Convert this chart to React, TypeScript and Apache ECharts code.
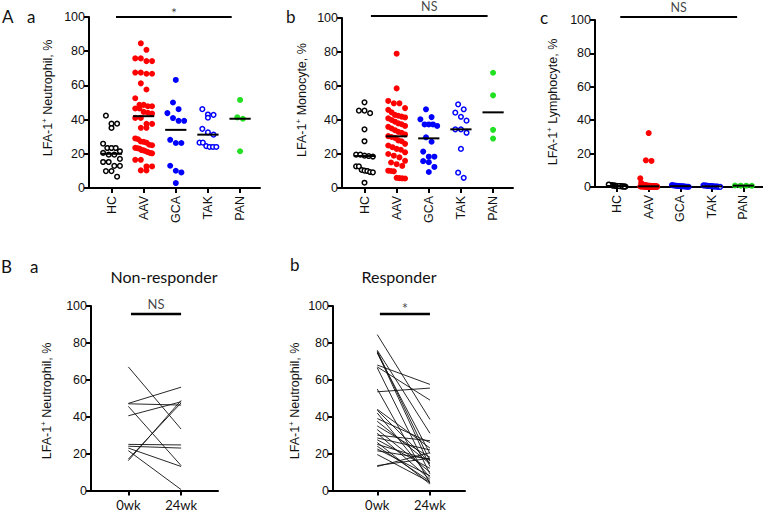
import React, { useEffect, useRef } from "react";
import * as echarts from "echarts";

// ---------- data ----------
const groups = ["HC", "AAV", "GCA", "TAK", "PAN"];
const timepoints = ["0wk", "24wk"];
const yTicks = [0, 20, 40, 60, 80, 100];

const neutrophilHC = [42.3, 37.6, 37.6, 35.1, 25.9, 23.4, 23.4, 23.4, 21.5, 20.5, 19.5, 19.5, 17, 15.2, 15.2, 12.9, 12.9, 9.9, 9.9, 6.6];
const neutrophilAAV = [84.6, 80.8, 75.8, 75.8, 74.2, 74.2, 67.5, 67.5, 66.8, 66.8, 61.2, 57.6, 52.5, 48.6, 48.6, 47.8, 47.8, 46.5, 46.5, 44.5, 44, 43.5, 41, 41, 37.5, 37.5, 35.2, 35.2, 29, 28.5, 27.2, 27, 26.5, 25.3, 25, 23.5, 23.3, 23, 22.2, 22, 21.5, 21, 20.5, 20.3, 16.5, 16.5, 12.6, 12.6, 10.3, 10.3];
const neutrophilGCA = [63.2, 50, 46.1, 43.8, 40.9, 39.3, 39.3, 28.2, 26.3, 26.3, 13, 10.1, 9.1, 2.9];
const neutrophilTAK = [46.1, 43, 42.8, 41.1, 34.6, 32.5, 31.2, 26.5, 26.5, 24.5, 24, 24, 24];
const neutrophilPAN = [51.5, 41.3, 40.5, 21.5];
const neutrophilMedians = [20, 42, 34, 31.2, 40.5];

const monocyteHC = [50.4, 45.5, 45.5, 44, 34.5, 27.5, 19.6, 19.6, 19, 18.8, 18.5, 12.7, 12.7, 10.6, 10.2, 10, 9.4, 9.2, 3.1];
const monocyteAAV = [79, 58.6, 51.2, 49.8, 49.8, 47, 46, 44.5, 43, 42.5, 42, 41.5, 41, 40, 39, 38, 37.5, 36.5, 36, 35, 34, 33, 32.5, 31.5, 30.5, 30, 29.5, 28, 27.5, 26, 25, 24, 23, 22.5, 21, 20, 19, 18, 16, 15, 14, 13, 10.2, 10, 9.8, 6, 5.8, 5.7, 5.6];
const monocyteGCA = [46.3, 41.7, 40.4, 37.4, 37.4, 37.4, 36.5, 29.8, 27.2, 21.4, 18.4, 18.4, 15.8, 15.2, 12.4, 9.4];
const monocyteTAK = [49.2, 46.3, 44.3, 41.9, 39.6, 34.5, 34.5, 32.5, 23, 9, 6];
const monocytePAN = [67.8, 54.5, 34.2, 29.1];
const monocyteMedians = [18.8, 30.4, 29.2, 34.5, 44.5];

const lymphocyteHC = [0.2, 0.3, 0.4, 0.4, 0.5, 0.5, 0.6, 0.6, 0.7, 0.8, 0.8, 0.9, 1.0, 1.1, 1.2, 1.3, 1.5, 0.3, 0.6];
const lymphocyteAAV = [32.3, 16.0, 15.6, 5.2, 2.5, 1.8, 1.5, 1.3, 1.2, 1.0, 1.0, 0.9, 0.8, 0.8, 0.7, 0.7, 0.6, 0.6, 0.5, 0.5, 0.5, 0.4, 0.4, 0.4, 0.3, 0.3, 0.3, 0.3, 0.2, 0.2, 0.2, 0.2, 0.1, 0.1, 0.1, 0.1, 0.1, 0, 0, 0, 0, 0, 0, 0, 0];
const lymphocyteGCA = [1.2, 1.0, 0.9, 0.8, 0.7, 0.6, 0.6, 0.5, 0.4, 0.4, 0.3, 0.2, 0.2, 0.1];
const lymphocyteTAK = [1.0, 0.9, 0.8, 0.7, 0.6, 0.5, 0.5, 0.4, 0.3, 0.3, 0.2, 0.1, 0.1];
const lymphocytePAN = [0.9, 0.8, 0.8, 0.7];
const lymphocyteMedians = [0.6, 0.4, 0.5, 0.4, 0.8];

const nonResponder0wk = [67, 47.2, 47, 45.6, 40.5, 25, 24, 23, 21.6, 17, 16.2];
const nonResponder24wk = [33.3, 56, 46.3, 13.5, 48.1, 24.7, 23, 13, 0.5, 47.5, 48.8];
const responder0wk = [84.5, 76, 75.5, 75, 74.5, 68, 67, 66.5, 55, 53.5, 44, 43.5, 42, 39, 37.5, 35, 33, 31, 30, 28.5, 27.5, 26, 25, 24, 22.5, 21.5, 19.5, 13.5, 13];
const responder24wk = [38.5, 31, 16, 13, 20, 57.5, 49, 9, 4, 55.5, 23, 15, 7, 26, 14.5, 18, 10, 6, 27, 22, 12, 3.5, 16.5, 5, 8, 17, 4.5, 17.5, 20.5];

// ---------- styling ----------
const groupColors = ["#000000", "#ff0000", "#0000ff", "#0000ff", "#22e022"];
const groupHollow = [true, false, false, true, false];
const TICK_FONT = "'Liberation Sans', Arial, sans-serif";
const CAL_FONT = "Lato, 'Open Sans', sans-serif";

// GraphPad-like row layout: neighbouring values share a row, centred on the category
function rowLayout(values: number[], pxX: number, pxY: number, d: number, maxHalf: number): number[] {
  const order = values.map((_, i) => i).sort((a, b) => values[b] - values[a]);
  const rows: number[][] = [];
  let top = Infinity;
  for (const i of order) {
    if (rows.length && (top - values[i]) * pxY < d * 1.45) rows[rows.length - 1].push(i);
    else { rows.push([i]); top = values[i]; }
  }
  const out = new Array(values.length).fill(0);
  rows.forEach((row) => {
    const n = row.length;
    const spacing = n > 1 ? Math.min(d, (2 * maxHalf) / (n - 1)) : 0;
    row.forEach((idx, k) => {
      out[idx] = ((k - (n - 1) / 2) * spacing) / pxX;
    });
  });
  return out;
}

const X_MIN_A = -0.7;
const X_MAX_A = 4.62;

const panelsA = [
  { cell: "Neutrophil", grid: { left: 89, top: 17, width: 171, height: 171 }, data: [neutrophilHC, neutrophilAAV, neutrophilGCA, neutrophilTAK, neutrophilPAN], medians: neutrophilMedians, sig: { x1: 0.14, x2: 3.74, y: 100, text: "*" }, namePos: [48, 98] },
  { cell: "Monocyte", grid: { left: 342, top: 18, width: 171, height: 170 }, data: [monocyteHC, monocyteAAV, monocyteGCA, monocyteTAK, monocytePAN], medians: monocyteMedians, sig: { x1: 0.2, x2: 3.83, y: 101.2, text: "NS" }, namePos: [302, 100] },
  { cell: "Lymphocyte", grid: { left: 595, top: 20, width: 168, height: 167 }, data: [lymphocyteHC, lymphocyteAAV, lymphocyteGCA, lymphocyteTAK, lymphocytePAN], medians: lymphocyteMedians, sig: { x1: 0.1, x2: 3.8, y: 101.8, text: "NS" }, namePos: [553, 102] },
];

const panelsB = [
  { grid: { left: 91, top: 306, width: 127, height: 184.5 }, xmin: -0.708, xmax: 1.7, pre: nonResponder0wk, post: nonResponder24wk, sig: { x1: 0.05, x2: 1.0, y: 95.7, text: "NS" }, namePos: [47, 401] },
  { grid: { left: 333, top: 306, width: 132, height: 184.5 }, xmin: -0.84, xmax: 1.665, pre: responder0wk, post: responder24wk, sig: { x1: 0.05, x2: 1.0, y: 95.7, text: "*" }, namePos: [295, 401] },
];

function yAxisCfg(gridIndex: number) {
  return {
    type: "value",
    gridIndex,
    min: 0,
    max: 100,
    interval: 20,
    axisLine: { show: true, onZero: false, lineStyle: { color: "#000", width: 2 } },
    axisTick: { show: true, length: 5, lineStyle: { color: "#000", width: 2 } },
    axisLabel: { color: "#111", fontFamily: TICK_FONT, fontSize: 12.5, margin: 4, customValues: yTicks },
    splitLine: { show: false },
  };
}

function yName(cell: string, pos: number[]) {
  return {
    type: "text",
    x: pos[0],
    y: pos[1],
    rotation: Math.PI / 2,
    style: {
      text: `{t|LFA-1}{s|+}{t| ${cell}, %}`,
      align: "center",
      verticalAlign: "middle",
      rich: {
        t: { fontSize: 12.5, fontFamily: TICK_FONT, fill: "#111", lineHeight: 15 },
        s: { fontSize: 8, fontFamily: TICK_FONT, fill: "#111", verticalAlign: "top", lineHeight: 15 },
      },
    },
  };
}

function sigLabel(text: string, big: number, small: number) {
  const star = text === "*";
  return {
    show: true,
    position: "top",
    distance: star ? -2 : 3,
    formatter: text,
    color: "#111",
    fontFamily: CAL_FONT,
    fontSize: star ? big : small,
  };
}

function buildOption() {
  const grids: any[] = [];
  const xAxes: any[] = [];
  const yAxes: any[] = [];
  const series: any[] = [];
  const names: any[] = [];

  panelsA.forEach((p, pi) => {
    grids.push({ ...p.grid });
    xAxes.push({
      type: "value",
      gridIndex: pi,
      min: X_MIN_A,
      max: X_MAX_A,
      axisLine: { show: true, onZero: false, lineStyle: { color: "#000", width: 2 } },
      axisTick: { show: true, length: 5, customValues: [0, 1, 2, 3, 4], lineStyle: { color: "#000", width: 2 } },
      axisLabel: {
        customValues: [0, 1, 2, 3, 4],
        formatter: (v: number) => groups[Math.round(v)] ?? "",
        rotate: 90,
        margin: 8,
        color: "#111",
        fontFamily: TICK_FONT,
        fontSize: 12.5,
      },
      splitLine: { show: false },
    });
    yAxes.push(yAxisCfg(pi));
    names.push(yName(p.cell, p.namePos));
    const pxX = p.grid.width / (X_MAX_A - X_MIN_A);
    const pxY = p.grid.height / 100;
    p.data.forEach((vals, g) => {
      const offs = rowLayout(vals, pxX, pxY, 5.6, 8.4);
      const hollow = groupHollow[g];
      series.push({
        type: "scatter",
        xAxisIndex: pi,
        yAxisIndex: pi,
        clip: false,
        symbol: "circle",
        symbolSize: hollow ? 4.6 : 6,
        itemStyle: hollow
          ? { color: "#ffffff", borderColor: groupColors[g], borderWidth: 1.5, opacity: 1 }
          : { color: groupColors[g], opacity: 1 },
        data: vals.map((v, i) => [g + offs[i], v]),
        z: 3,
      });
    });
    series.push({
      type: "custom",
      xAxisIndex: pi,
      yAxisIndex: pi,
      z: 5,
      encode: { x: 0, y: 1 },
      data: p.medians.map((m, i) => [i, m]),
      renderItem: (_params: any, api: any) => {
        const a = api.coord([api.value(0) - 0.33, api.value(1)]);
        const b = api.coord([api.value(0) + 0.33, api.value(1)]);
        return { type: "line", shape: { x1: a[0], y1: a[1], x2: b[0], y2: b[1] }, style: { stroke: "#000", lineWidth: 2 } };
      },
    });
    series.push({
      type: "line",
      xAxisIndex: pi,
      yAxisIndex: pi,
      clip: false,
      symbol: "none",
      lineStyle: { color: "#000", width: 2 },
      data: [[p.sig.x1, p.sig.y], [p.sig.x2, p.sig.y]],
    });
    series.push({
      type: "scatter",
      xAxisIndex: pi,
      yAxisIndex: pi,
      clip: false,
      symbolSize: 0,
      data: [[(p.sig.x1 + p.sig.x2) / 2, p.sig.y]],
      label: sigLabel(p.sig.text, 14, 12.5),
    });
  });

  panelsB.forEach((p, bi) => {
    const gi = 3 + bi;
    grids.push({ ...p.grid });
    xAxes.push({
      type: "value",
      gridIndex: gi,
      min: p.xmin,
      max: p.xmax,
      axisLine: { show: true, onZero: false, lineStyle: { color: "#000", width: 2 } },
      axisTick: { show: true, length: 5, customValues: [0, 1], lineStyle: { color: "#000", width: 2 } },
      axisLabel: {
        customValues: [0, 1],
        formatter: (v: number) => timepoints[Math.round(v)] ?? "",
        margin: 8,
        color: "#111",
        fontFamily: CAL_FONT,
        fontSize: 13,
      },
      splitLine: { show: false },
    });
    yAxes.push(yAxisCfg(gi));
    names.push(yName("Neutrophil", p.namePos));
    series.push({
      type: "custom",
      xAxisIndex: gi,
      yAxisIndex: gi,
      z: 3,
      encode: { x: [0, 2], y: [1, 3] },
      data: p.pre.map((v, i) => [0, v, 1, p.post[i]]),
      renderItem: (_params: any, api: any) => {
        const a = api.coord([api.value(0), api.value(1)]);
        const b = api.coord([api.value(2), api.value(3)]);
        return { type: "line", shape: { x1: a[0], y1: a[1], x2: b[0], y2: b[1] }, style: { stroke: "#111", lineWidth: 0.9 } };
      },
    });
    series.push({
      type: "line",
      xAxisIndex: gi,
      yAxisIndex: gi,
      clip: false,
      symbol: "none",
      lineStyle: { color: "#000", width: 2.5 },
      data: [[p.sig.x1, p.sig.y], [p.sig.x2, p.sig.y]],
    });
    series.push({
      type: "scatter",
      xAxisIndex: gi,
      yAxisIndex: gi,
      clip: false,
      symbolSize: 0,
      data: [[(p.sig.x1 + p.sig.x2) / 2, p.sig.y]],
      label: sigLabel(p.sig.text, 15, 13),
    });
  });

  const letter = (text: string, x: number, y: number) => ({
    type: "text",
    x,
    y,
    style: { text, fill: "#111", font: `17px ${CAL_FONT}`, verticalAlign: "middle", align: "left" },
  });

  return {
    animation: false,
    backgroundColor: "#ffffff",
    grid: grids,
    xAxis: xAxes,
    yAxis: yAxes,
    series,
    graphic: [
      ...names,
      letter("A", 2, 16),
      letter("a", 27, 16),
      letter("b", 286, 16),
      letter("c", 540, 17),
      letter("B", 1, 266),
      letter("a", 30, 266),
      letter("b", 290, 264),
      { type: "text", x: 164, y: 276, style: { text: "Non-responder", fill: "#111", font: `16px ${CAL_FONT}`, align: "center", verticalAlign: "middle" } },
      { type: "text", x: 399, y: 276, style: { text: "Responder", fill: "#111", font: `16px ${CAL_FONT}`, align: "center", verticalAlign: "middle" } },
    ],
  };
}

export default function App() {
  const ref = useRef<HTMLDivElement>(null);
  useEffect(() => {
    document.body.style.margin = "0";
    if (!ref.current) return;
    const chart = echarts.init(ref.current, undefined, { renderer: "svg" });
    chart.setOption(buildOption() as any);
    return () => chart.dispose();
  }, []);
  return <div ref={ref} style={{ width: 763, height: 512, position: "absolute", left: 0, top: 0 }} />;
}
